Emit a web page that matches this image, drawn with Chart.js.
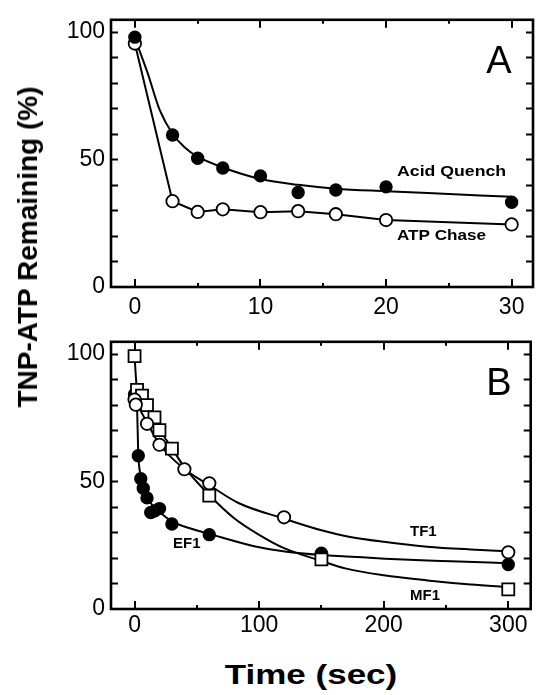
<!DOCTYPE html>
<html>
<head>
<meta charset="utf-8">
<script src="https://cdn.jsdelivr.net/npm/chart.js@4"></script>
<style>
  html, body { margin: 0; padding: 0; background: #fff; }
  body { width: 541px; height: 695px; position: relative; overflow: hidden; font-family: "Liberation Sans", Arial, sans-serif; }
  canvas { position: absolute; left: 0; }
  #cA { top: 0; }
  #cB { top: 322px; }
  .ytitle { position: absolute; left: 28px; top: 246.5px; transform: translate(-50%, -50%) rotate(-90deg);
            font: bold 28px "Liberation Sans", Arial, sans-serif; white-space: nowrap; line-height: 1; color: #000; }
  .xtitle { position: absolute; left: 311px; top: 675px; transform: translate(-50%, -50%) scaleX(1.25);
            font: bold 28px "Liberation Sans", Arial, sans-serif; white-space: nowrap; line-height: 1; color: #000; }
</style>
</head>
<body>
<canvas id="cA" width="541" height="322"></canvas>
<canvas id="cB" width="541" height="323"></canvas>
<div class="ytitle">TNP-ATP Remaining (%)</div>
<div class="xtitle">Time (sec)</div>
<script>
// ---------- Panel A data ----------
const timeA = [0, 3, 5, 7, 10, 13, 16, 20, 30];
const acidQuench = [97.8, 59.5, 50.4, 46.6, 43.5, 37, 38, 39.2, 33.2];
const atpChase = [95.3, 33.6, 29.4, 30.4, 29.3, 29.7, 28.5, 26.2, 24.5];
// fitted curve drawn through acid quench points
const acidFitT = [0, 1, 2, 3, 4, 5, 7, 10, 13, 16, 20, 25, 30];
const acidFitY = [97.5, 84, 69, 60, 54.5, 51, 46.8, 42.3, 40, 38.5, 37.5, 36.4, 35.3];
const xTicksA = [0, 10, 20, 30];
const xMinorA = [5, 15, 25];

// ---------- Panel B data ----------
const timeEF1 = [0, 3, 5, 7, 10, 13, 16, 20, 30, 60, 150, 300];
const ef1 = [84, 60, 51, 47.3, 43.5, 37.8, 38.4, 39.3, 33.3, 29.1, 21.8, 17.4];
const timeMF1 = [0, 2, 6, 10, 16, 20, 30, 60, 150, 300];
const mf1 = [99, 85.8, 83.5, 79.8, 75, 70, 62.8, 44.4, 19.4, 7.7];
const timeTF1 = [0, 1, 10, 20, 40, 60, 120, 300];
const tf1 = [82, 80, 72.5, 64.3, 54.7, 49.2, 35.9, 22.2];
// fitted curves
const ef1FitT = [0, 1, 2, 3, 5, 7, 10, 13, 16, 20, 30, 45, 60, 96, 122, 151, 170, 201, 235, 254, 300];
const ef1FitY = [86, 84, 79, 61, 52, 47.5, 43.8, 41.5, 39.8, 38, 34.3, 31.5, 29.4, 24.6, 22.4, 21.1, 20.6, 19.7, 19, 18.7, 17.9];
const mf1FitT = [0, 2, 6, 10, 16, 20, 30, 40, 60, 80, 100, 120, 150, 170, 200, 235, 270, 300];
const mf1FitY = [99, 86, 83.5, 79.8, 75, 70.5, 63, 55.5, 44.6, 35.5, 29, 23.8, 18.8, 15.8, 13.2, 11.2, 9.6, 8.6];
const tf1FitT = [0, 10, 20, 40, 60, 83, 121, 150, 170, 200, 235, 270, 300];
const tf1FitY = [82, 73, 64.5, 54.8, 48.5, 41.6, 35.2, 30.8, 28.5, 26.3, 24.4, 23.3, 22.6];
const xTicksB = [0, 100, 200, 300];
const xMinorB = [50, 150, 250];

const yTicks = [0, 50, 100];
const yMinor = [10, 20, 30, 40, 60, 70, 80, 90];

// ---------- helpers ----------
const pts = (xs, ys) => xs.map((x, i) => ({ x: x, y: ys[i] }));
const FONT = '"Liberation Sans", Arial, sans-serif';

function markerSet(data, style) {
  const filled = style === 'filled';
  return {
    data: data, showLine: false, order: 0,
    pointStyle: style === 'square' ? 'rect' : 'circle',
    pointRadius: style === 'square' ? 8.5 : (filled ? 5.8 : 6.2),
    pointBackgroundColor: filled ? '#000' : '#fff',
    pointBorderColor: '#000', pointBorderWidth: 1.8
  };
}
function lineSet(data, smooth) {
  return {
    data: data, showLine: true, order: 10, pointRadius: 0,
    borderColor: '#000', borderWidth: 2,
    cubicInterpolationMode: smooth ? 'monotone' : 'default', tension: 0
  };
}

function framePlugin(xMajor, xMinor, labels, letter) {
  return {
    id: 'frame',
    afterDatasetsDraw(chart) {
      const ctx = chart.ctx, a = chart.chartArea;
      const xs = chart.scales.x, ys = chart.scales.y;
      ctx.save();
      ctx.strokeStyle = '#000';
      ctx.lineWidth = 2;
      ctx.beginPath();
      yTicks.concat(yMinor).forEach(v => {
        if (v <= 0) return;
        const p = Math.round(ys.getPixelForValue(v)) + 0.5;
        ctx.moveTo(a.left, p); ctx.lineTo(a.left + 7, p);
        ctx.moveTo(a.right, p); ctx.lineTo(a.right - 7, p);
      });
      xMajor.forEach(v => {
        const p = Math.round(xs.getPixelForValue(v));
        ctx.moveTo(p, a.bottom); ctx.lineTo(p, a.bottom - 8);
        ctx.moveTo(p, a.top); ctx.lineTo(p, a.top + 8);
      });
      xMinor.forEach(v => {
        const p = Math.round(xs.getPixelForValue(v));
        ctx.moveTo(p, a.bottom); ctx.lineTo(p, a.bottom - 4);
        ctx.moveTo(p, a.top); ctx.lineTo(p, a.top + 4);
      });
      ctx.stroke();
      ctx.lineWidth = 2.6;
      ctx.strokeRect(a.left, a.top, a.right - a.left, a.bottom - a.top);
      // panel letter
      ctx.fillStyle = '#000';
      ctx.font = '38px ' + FONT;
      ctx.textAlign = 'center';
      ctx.textBaseline = 'alphabetic';
      ctx.fillText(letter, 499, 72.7);
      // series labels
      ctx.textAlign = 'left';
      labels.forEach(l => {
        ctx.save();
        ctx.font = 'bold ' + l.size + 'px ' + FONT;
        ctx.translate(l.x, l.y);
        ctx.scale(l.sx, 1);
        ctx.fillText(l.text, 0, 0);
        ctx.restore();
      });
      ctx.restore();
    }
  };
}

function makeOptions(xmin, xmax, xTicks, axisHeight, xPad) {
  return {
    responsive: false, animation: false, devicePixelRatio: 1,
    layout: { padding: { left: 0, right: 3, top: 13, bottom: 0 } },
    plugins: { legend: { display: false }, tooltip: { enabled: false } },
    scales: {
      x: {
        type: 'linear', min: xmin, max: xmax,
        afterBuildTicks: s => { s.ticks = xTicks.map(v => ({ value: v })); },
        afterFit: s => { s.height = axisHeight; },
        grid: { display: false, drawTicks: false }, border: { display: false },
        ticks: { font: { family: FONT, size: 23 }, color: '#000', padding: xPad, maxRotation: 0, autoSkip: false }
      },
      y: {
        type: 'linear', min: 0, max: 104.6,
        afterBuildTicks: s => { s.ticks = yTicks.map(v => ({ value: v })); },
        afterFit: s => { s.width = 111; },
        grid: { display: false, drawTicks: false }, border: { display: false },
        ticks: { font: { family: FONT, size: 23 }, color: '#000', padding: 6, autoSkip: false }
      }
    }
  };
}

// ---------- Panel A ----------
new Chart(document.getElementById('cA'), {
  type: 'scatter',
  data: {
    datasets: [
      markerSet(pts(timeA, acidQuench), 'filled'),
      markerSet(pts(timeA, atpChase), 'open'),
      lineSet(pts(acidFitT, acidFitY), true),
      lineSet(pts(timeA, atpChase), false)
    ]
  },
  options: makeOptions(-1.9, 31.7, xTicksA, 35, 7),
  plugins: [framePlugin(xTicksA, xMinorA, [
    { text: 'Acid Quench', x: 397, y: 176, size: 15, sx: 1.18 },
    { text: 'ATP Chase', x: 397, y: 240, size: 15, sx: 1.14 }
  ], 'A')]
});

// ---------- Panel B ----------
new Chart(document.getElementById('cB'), {
  type: 'scatter',
  data: {
    datasets: [
      markerSet(pts(timeTF1, tf1), 'open'),
      markerSet(pts(timeMF1, mf1), 'square'),
      markerSet(pts(timeEF1, ef1), 'filled'),
      lineSet(pts(ef1FitT, ef1FitY), true),
      lineSet(pts(mf1FitT, mf1FitY), true),
      lineSet(pts(tf1FitT, tf1FitY), true)
    ]
  },
  options: makeOptions(-18.9, 318, xTicksB, 36, 3),
  plugins: [framePlugin(xTicksB, xMinorB, [
    { text: 'TF1', x: 410, y: 214, size: 15, sx: 1.0 },
    { text: 'MF1', x: 410, y: 278, size: 15, sx: 1.0 },
    { text: 'EF1', x: 173, y: 226, size: 15, sx: 1.0 }
  ], 'B')]
});
</script>
</body>
</html>
